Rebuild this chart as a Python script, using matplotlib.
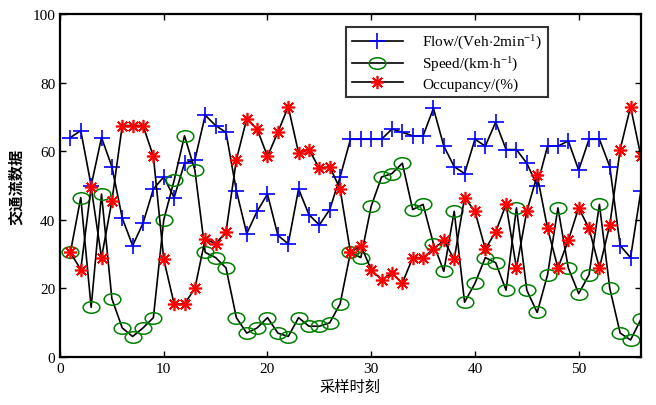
import matplotlib
matplotlib.use("Agg")
import matplotlib.pyplot as plt
import numpy as np
from matplotlib.path import Path

plt.rcParams["font.family"] = ["Liberation Serif", "Noto Sans CJK SC"]
plt.rcParams["mathtext.fontset"] = "custom"
plt.rcParams["mathtext.rm"] = "Liberation Serif"
plt.rcParams["mathtext.it"] = "Liberation Serif:italic"

# sample index 1..56
samples = np.arange(1, 57)

flow = [64, 66, 50, 64, 55.5, 40.5, 32.5, 39, 49, 52.5, 46.5, 56.5, 57.5, 70.5,
        67.5, 65.5, 48.5, 36, 42.5, 47.5, 35.5, 33, 49, 41.5, 38.5, 43, 52.5, 63.5,
        63.5, 63.5, 63.5, 66.5, 65.5, 64.5, 64.5, 72.5, 61.5, 55.5, 53.5, 63.5, 61.5,
        68.5, 60.5, 60.5, 56.5, 50, 61.5, 61.5, 63, 54.5, 63.5, 63.5, 55.5, 32.5, 29,
        48.5]
speed = [30.5, 46.5, 14.5, 47.5, 17, 8.5, 6, 8.5, 11.5, 40, 51.5, 64.5, 54.5, 30.5,
         29, 26, 11.5, 7, 8.5, 11.5, 7, 6, 11.5, 9, 9, 10, 15.5, 30.5, 29, 44, 52.5,
         53.5, 56.5, 43, 44.5, 33, 25, 42.5, 16, 21.5, 29, 27.5, 19.5, 43.5, 19.5, 13,
         24, 43.5, 26, 18.5, 24, 44.5, 20, 7, 5, 11]
occupancy = [30.5, 25.5, 49.5, 29, 45.5, 67.5, 67.5, 67.5, 58.5, 28.5, 15.5, 15.5,
             20, 34.5, 33, 36.5, 57.5, 69.5, 66.5, 58.5, 65.5, 73, 59.5, 60.5, 55,
             55.5, 49, 30.5, 32.5, 25.5, 22.5, 24.5, 21.5, 29, 29, 31.5, 34, 28.5,
             46.5, 42.5, 31.5, 36.5, 44.5, 26, 42.5, 53, 37.5, 26, 34, 43.5, 37.5,
             26, 38.5, 60.5, 73, 58.5]

labels = [r"Flow/(Veh$\cdot$2min$^{-1}$)",
          r"Speed/(km$\cdot$h$^{-1}$)",
          "Occupancy/(%)"]

# wide ellipse marker for the speed series
circle = Path.unit_circle()
ellipse = Path(circle.vertices * np.array([1.45, 1.0]), circle.codes)

fig = plt.figure(figsize=(6.56, 4.06), dpi=100)
ax = fig.add_axes([0.0915, 0.118, 0.8855, 0.845])

ax.plot(samples, flow, color="black", lw=1.2, marker="+", ms=12,
        mec="blue", mew=1.2, label=labels[0])
ax.plot(samples, speed, color="black", lw=1.2, marker=ellipse, ms=12,
        mec="green", mfc="none", mew=1.1, label=labels[1])
ax.plot(samples, occupancy, color="black", lw=1.2, marker=(8, 2, 0), ms=9.5,
        mec="red", mew=1.2, label=labels[2])

ax.set_xlim(0, 56)
ax.set_ylim(0, 100)
ax.set_xticks(np.arange(0, 51, 10))
ax.set_yticks(np.arange(0, 101, 20))
ax.tick_params(direction="in", top=True, right=True, labelsize=11,
               length=4, width=1)
for s in ax.spines.values():
    s.set_linewidth(1.6)

ax.set_xlabel("采样时刻", family=["Noto Sans CJK SC"], fontsize=11, labelpad=2)
ax.set_ylabel("交通流数据", family=["Noto Sans CJK SC"], fontsize=11,
              fontweight="bold", labelpad=6)

leg = ax.legend(loc="upper right", bbox_to_anchor=(0.854, 0.985), fontsize=11,
                frameon=True, fancybox=False, edgecolor="black",
                handlelength=3.3, handletextpad=1.3, labelspacing=0.25,
                borderpad=0.4)
leg.get_frame().set_linewidth(1.5)

fig.savefig("out.png", dpi=100)
